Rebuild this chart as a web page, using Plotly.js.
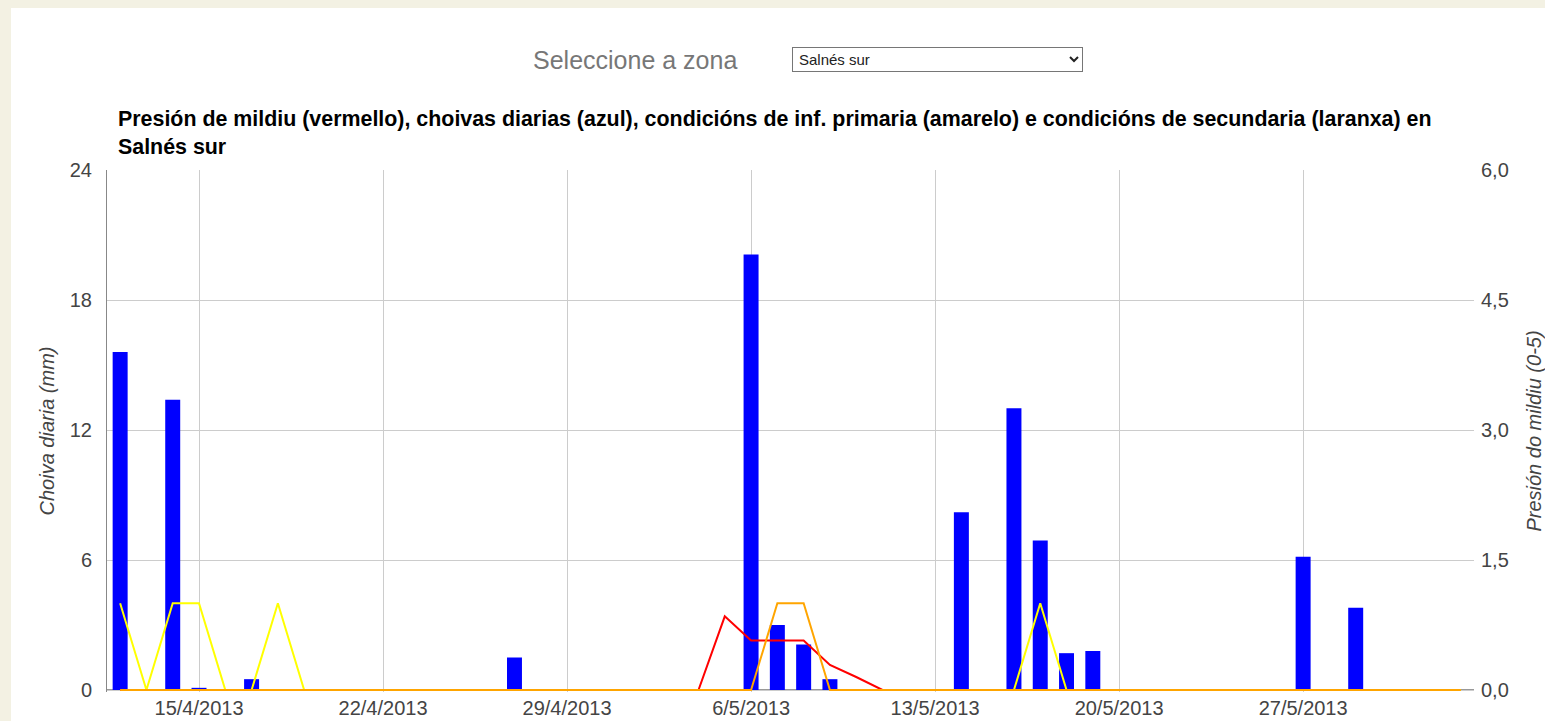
<!DOCTYPE html>
<html>
<head>
<meta charset="utf-8">
<script src="https://cdn.plot.ly/plotly-3.0.1.min.js"></script>
<style>
html,body{margin:0;padding:0;width:1545px;height:721px;overflow:hidden;background:#f3f1e3;font-family:Arial,"Liberation Sans",sans-serif;}
#panel{position:absolute;left:11px;top:8px;right:0;bottom:0;background:#fff;}
#lbl{position:absolute;left:533px;top:45px;font-size:25px;line-height:30px;color:#777;}
#zona{position:absolute;left:792px;top:47px;width:291px;height:25px;box-sizing:border-box;border:1px solid #767676;border-radius:0;background:#fff;font-family:"Liberation Sans Narrow","Liberation Sans",Arial,sans-serif;font-size:15px;color:#222;padding:0 2px;}
#chart{position:absolute;left:0;top:0;width:1545px;height:721px;}
</style>
</head>
<body>
<div id="panel"></div>
<div id="lbl">Seleccione a zona</div>
<select id="zona"><option>Salnés sur</option></select>
<div id="chart"></div>
<script>
// Daily dates (12/4/2013 .. 2/6/2013)
const dates = [
 '2013-04-12','2013-04-13','2013-04-14','2013-04-15','2013-04-16','2013-04-17','2013-04-18','2013-04-19','2013-04-20','2013-04-21',
 '2013-04-22','2013-04-23','2013-04-24','2013-04-25','2013-04-26','2013-04-27','2013-04-28','2013-04-29','2013-04-30','2013-05-01',
 '2013-05-02','2013-05-03','2013-05-04','2013-05-05','2013-05-06','2013-05-07','2013-05-08','2013-05-09','2013-05-10','2013-05-11',
 '2013-05-12','2013-05-13','2013-05-14','2013-05-15','2013-05-16','2013-05-17','2013-05-18','2013-05-19','2013-05-20','2013-05-21',
 '2013-05-22','2013-05-23','2013-05-24','2013-05-25','2013-05-26','2013-05-27','2013-05-28','2013-05-29','2013-05-30','2013-05-31',
 '2013-06-01','2013-06-02'
];
// Choiva diaria (mm) - blue bars
const choiva = [
 15.6,0,13.4,0.1,0,0.5,0,0,0,0,
 0,0,0,0,0,1.5,0,0,0,0,
 0,0,0,0,20.1,3.0,2.1,0.5,0,0,
 0,0,8.2,0,13.0,6.9,1.7,1.8,0,0,
 0,0,0,0,0,6.15,0,3.8,0,0,
 0,0
];
// Presión de mildiu (vermello)
const presion = [
 0,0,0,0,0,0,0,0,0,0,
 0,0,0,0,0,0,0,0,0,0,
 0,0,0,0.85,0.57,0.57,0.57,0.29,0.15,0,
 0,0,0,0,0,0,0,0,0,0,
 0,0,0,0,0,0,0,0,0,0,
 0,0
];
// Condicións de inf. primaria (amarelo)
const primaria = [
 1,0,1,1,0,0,1,0,0,0,
 0,0,0,0,0,0,0,0,0,0,
 0,0,0,0,0,null,null,0,0,0,
 0,0,0,0,0,1,0,0,0,0,
 0,0,0,0,0,0,0,0,0,0,
 0,0
];
// Condicións de secundaria (laranxa)
const secundaria = [
 0,0,0,0,0,0,0,0,0,0,
 0,0,0,0,0,0,0,0,0,0,
 0,0,0,0,0,1,1,0,0,0,
 0,0,0,0,0,0,0,0,0,0,
 0,0,0,0,0,0,0,0,0,0,
 0,0
];
const xTickVals = ['2013-04-15','2013-04-22','2013-04-29','2013-05-06','2013-05-13','2013-05-20','2013-05-27'];
const xTickText = ['15/4/2013','22/4/2013','29/4/2013','6/5/2013','13/5/2013','20/5/2013','27/5/2013'];
const yLeftTicks = [0,6,12,18,24];
const yRightTicks = [0,1.5,3,4.5,6];

const DAY = 86400000;
const FONT = 'Arial, "Liberation Sans", sans-serif';
const tickFont = {family:FONT, size:20, color:'#444'};
// small padding below zero so the zero-level lines are not clipped (2px of a 520px axis)
const padL = 24*2/520, padR = 6*2/520;

const traces = [
 {type:'bar', name:'Choiva diaria (mm)', x:dates, y:choiva, width:0.57*DAY,
  marker:{color:'#0000ff', line:{width:0}}},
 {type:'scatter', mode:'lines', name:'Presión de mildiu', x:dates, y:presion, yaxis:'y2',
  line:{color:'#ff0000', width:2}},
 {type:'scatter', mode:'lines', name:'Condicións de inf. primaria', x:dates, y:primaria, yaxis:'y2',
  line:{color:'#ffff00', width:2}, connectgaps:false},
 {type:'scatter', mode:'lines', name:'Condicións de secundaria', x:dates, y:secundaria, yaxis:'y2',
  line:{color:'#ffa500', width:2}}
];

const layout = {
 width:1545, height:721,
 margin:{l:107, r:71, t:170, b:29},
 paper_bgcolor:'rgba(0,0,0,0)',
 plot_bgcolor:'#ffffff',
 separators:',.',
 showlegend:false,
 font:{family:FONT, color:'#444'},
 title:{
  text:'Presión de mildiu (vermello), choivas diarias (azul), condicións de inf. primaria (amarelo) e condicións de secundaria (laranxa) en<br>Salnés sur',
  font:{family:FONT, size:21.4, color:'#000', weight:'bold'},
  xref:'container', yref:'container', x:118/1545, xanchor:'left', y:1-126/721, yanchor:'top', align:'left'
 },
 xaxis:{
  type:'date', range:['2013-04-11 12:00','2013-06-02 12:00'],
  tickmode:'array', tickvals:xTickVals, ticktext:xTickText,
  showgrid:true, gridcolor:'#cccccc', gridwidth:1,
  showline:false, zeroline:false, ticks:'', tickfont:tickFont, ticklabelstandoff:2, fixedrange:true
 },
 yaxis:{
  range:[-padL,24], tickmode:'array', tickvals:yLeftTicks,
  showgrid:true, gridcolor:'#cccccc', gridwidth:1,
  showline:true, linecolor:'#888888', linewidth:1,
  zeroline:false, ticks:'', tickfont:tickFont, ticklabelstandoff:10,
  title:{text:'Choiva diaria (mm)', font:{family:FONT, size:20, color:'#444', style:'italic'}, standoff:9},
  fixedrange:true
 },
 yaxis2:{
  range:[-padR,6], overlaying:'y', side:'right', tickmode:'array', tickvals:yRightTicks, tickformat:'.1f',
  showgrid:false, zeroline:false, showline:false, ticks:'', tickfont:tickFont, ticklabelstandoff:6,
  title:{text:'Presión do mildiu (0-5)', font:{family:FONT, size:20, color:'#444', style:'italic'}, standoff:19},
  fixedrange:true
 },
 shapes:[
  {type:'line', xref:'paper', yref:'y', x0:0, x1:1, y0:0, y1:0, layer:'between',
   line:{color:'#333333', width:1}}
 ]
};

Plotly.newPlot('chart', traces, layout, {displayModeBar:false, staticPlot:true});
</script>
</body>
</html>
